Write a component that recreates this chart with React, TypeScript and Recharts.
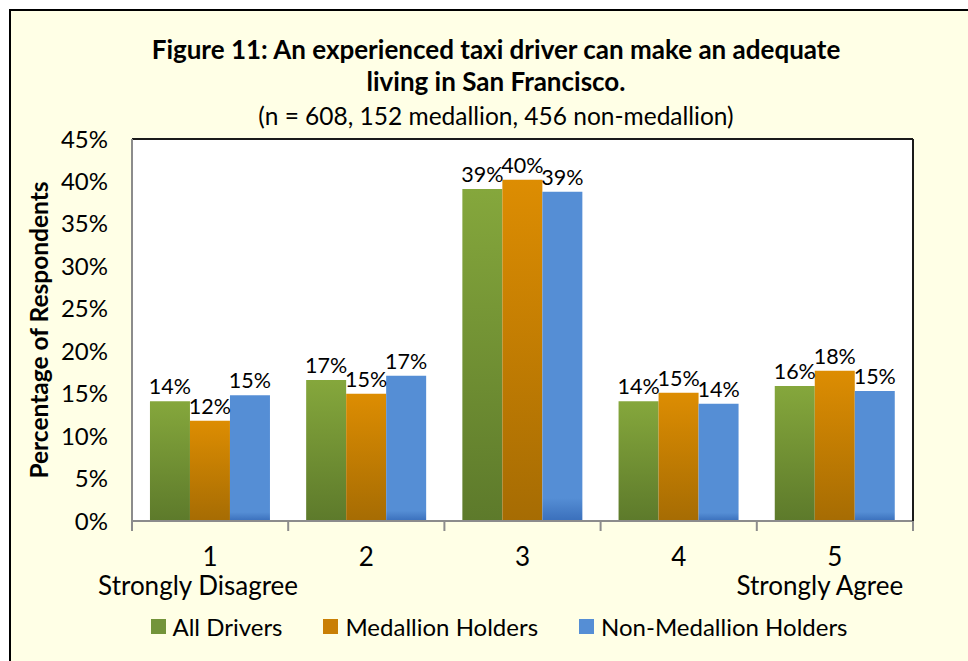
import React from 'react'
import { BarChart, Bar, XAxis, YAxis, CartesianGrid, Legend, LabelList, ReferenceLine } from 'recharts'

const categories = ['1', '2', '3', '4', '5']
const subLabels = ['Strongly Disagree', '', '', '', 'Strongly Agree']
const allDrivers = [14.1, 16.6, 39.1, 14.1, 15.9]
const medallion = [11.8, 15.0, 40.2, 15.1, 17.7]
const nonMedallion = [14.8, 17.1, 38.8, 13.8, 15.3]
const yTicks = [0, 5, 10, 15, 20, 25, 30, 35, 40, 45]

const seriesNames = ['All Drivers', 'Medallion Holders', 'Non-Medallion Holders']

const data = categories.map((c, i) => ({
    name: c,
    sub: subLabels[i],
    all: allDrivers[i],
    med: medallion[i],
    non: nonMedallion[i],
}))

const W = 968
const H = 661
const M = { top: 139, right: 54, bottom: 20, left: 20 }
const Y_W = 112
const R_W = 1
const FONT = 'Lato, "Open Sans", sans-serif'
const BAND = (W - M.left - M.right - Y_W - R_W) / categories.length

const legendColors = ['#73943a', '#c97f05', '#558ed5']

const XTick = (props: any) => {
    const { x, y, payload, index } = props
    const sub = subLabels[index]
    let dx = 0
    if (index === 0) dx = -12
    if (index === categories.length - 1) dx = -15
    return (
        <g>
            <line x1={x - BAND / 2} x2={x - BAND / 2} y1={y} y2={y + 10} stroke="#8c8c8c" strokeWidth={2} />
            {index === categories.length - 1 && (
                <line x1={x + BAND / 2} x2={x + BAND / 2} y1={y} y2={y + 10} stroke="#8c8c8c" strokeWidth={2} />
            )}
            <text x={x} y={y + 45} textAnchor="middle" fontSize={26} fill="#000" fontFamily={FONT}>{payload.value}</text>
            {sub && (
                <text x={x + dx} y={y + 74} textAnchor="middle" fontSize={26} fill="#000" fontFamily={FONT}>{sub}</text>
            )}
        </g>
    )
}

const YLabel = (props: any) => {
    const { viewBox } = props
    const cx = viewBox.x + 18
    const cy = viewBox.y + viewBox.height / 2
    return (
        <text x={cx} y={cy} transform={`rotate(-90, ${cx}, ${cy})`} textAnchor="middle" dominantBaseline="central"
            fontSize={24.5} fontWeight="bold" fontFamily={FONT} fill="#000">
            Percentage of Respondents
        </text>
    )
}

const LegendContent = () => (
    <div style={{ display: 'flex', justifyContent: 'center', alignItems: 'center', height: 30, paddingLeft: 64, fontFamily: FONT, fontSize: 24, color: '#000' }}>
        {seriesNames.map((n, i) => (
            <div key={n} style={{ display: 'flex', alignItems: 'center', marginRight: i < 2 ? 41 : 0 }}>
                <div style={{ width: 15, height: 15, background: legendColors[i], marginRight: 7 }} />
                <span>{n}</span>
            </div>
        ))}
    </div>
)

const fmt = (v: any) => `${Math.round(Number(v))}%`

export default function App() {
    return (
        <div style={{ position: 'absolute', left: 0, top: 0, width: W, height: H, background: '#fff', overflow: 'hidden' }}>
            <div style={{ position: 'absolute', left: 9, top: 9, width: W, height: H, borderTop: '2px solid #000', borderLeft: '2px solid #000', background: '#ffffe6' }} />
            <div style={{ position: 'absolute', left: 0, top: 33, width: 992, textAlign: 'center', fontFamily: FONT, fontWeight: 'bold', fontSize: 26, lineHeight: '32px', color: '#000' }}>
                Figure 11: An experienced taxi driver can make an adequate<br />living in San Francisco.
            </div>
            <div style={{ position: 'absolute', left: 0, top: 101, width: 992, textAlign: 'center', fontFamily: FONT, fontSize: 24.5, lineHeight: '30px', color: '#000' }}>
                (n = 608, 152 medallion, 456 non-medallion)
            </div>
            <div style={{ position: 'absolute', left: 0, top: 0 }}>
                <BarChart width={W} height={H} data={data} margin={M} barCategoryGap="11.5%" barGap={0}>
                    <defs>
                        <linearGradient id="gGreen" x1="0" y1="0" x2="0" y2="1">
                            <stop offset="0%" stopColor="#85a73c" />
                            <stop offset="100%" stopColor="#5d7a2b" />
                        </linearGradient>
                        <linearGradient id="gOrange" x1="0" y1="0" x2="0" y2="1">
                            <stop offset="0%" stopColor="#dd8d02" />
                            <stop offset="100%" stopColor="#a66c03" />
                        </linearGradient>
                        <linearGradient id="gBlue" x1="0" y1="0" x2="0" y2="1">
                            <stop offset="0%" stopColor="#558ed5" />
                            <stop offset="93%" stopColor="#558ed5" />
                            <stop offset="100%" stopColor="#3a6fbb" />
                        </linearGradient>
                    </defs>
                    <CartesianGrid vertical={false} stroke="#8c8c8c" strokeWidth={2} fill="#fff" />
                    <XAxis dataKey="name" height={90} axisLine={{ stroke: '#8c8c8c', strokeWidth: 2 }} tickLine={false}
                        tickSize={0} tickMargin={0} tick={<XTick />} interval={0} />
                    <YAxis yAxisId="l" domain={[0, 45]} ticks={yTicks} width={Y_W} tickFormatter={(v) => `${v}%`}
                        axisLine={{ stroke: '#8c8c8c', strokeWidth: 2 }} tickLine={false} tickSize={0} tickMargin={24}
                        tick={{ fontSize: 24, fill: '#000', fontFamily: FONT }} label={<YLabel />} />
                    <YAxis yAxisId="r" orientation="right" domain={[0, 45]} ticks={yTicks} width={R_W} tick={false}
                        tickLine={false} axisLine={{ stroke: '#1a1a1a', strokeWidth: 2 }} />
                    <ReferenceLine yAxisId="l" y={45} stroke="#1a1a1a" strokeWidth={2} />
                    <Legend verticalAlign="bottom" content={<LegendContent />} />
                    <Bar yAxisId="l" dataKey="all" name={seriesNames[0]} fill="url(#gGreen)" isAnimationActive={false}>
                        <LabelList dataKey="all" position="top" offset={7} formatter={fmt} fill="#000" fontSize={21.5} fontFamily={FONT} />
                    </Bar>
                    <Bar yAxisId="l" dataKey="med" name={seriesNames[1]} fill="url(#gOrange)" isAnimationActive={false}>
                        <LabelList dataKey="med" position="top" offset={7} formatter={fmt} fill="#000" fontSize={21.5} fontFamily={FONT} />
                    </Bar>
                    <Bar yAxisId="l" dataKey="non" name={seriesNames[2]} fill="url(#gBlue)" isAnimationActive={false}>
                        <LabelList dataKey="non" position="top" offset={7} formatter={fmt} fill="#000" fontSize={21.5} fontFamily={FONT} />
                    </Bar>
                </BarChart>
            </div>
        </div>
    )
}
